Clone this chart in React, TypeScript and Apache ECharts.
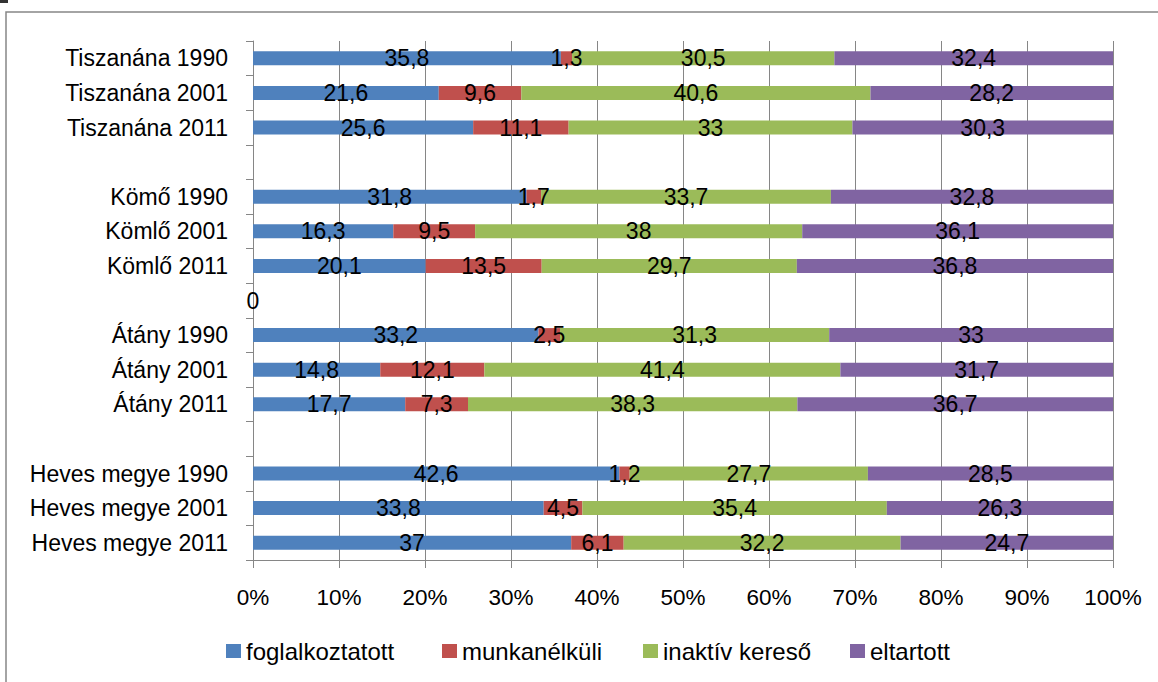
import React, { useEffect, useRef } from "react";
import * as echarts from "echarts";

const categories = [
  "Tiszanána 1990", "Tiszanána 2001", "Tiszanána 2011", " ",
  "Kömő 1990", "Kömlő 2001", "Kömlő 2011", "  ",
  "Átány 1990", "Átány 2001", "Átány 2011", "   ",
  "Heves megye 1990", "Heves megye 2001", "Heves megye 2011",
];
const seriesNames = ["foglalkoztatott", "munkanélküli", "inaktív kereső", "eltartott"];
const foglalkoztatott = [35.8, 21.6, 25.6, null, 31.8, 16.3, 20.1, 0, 33.2, 14.8, 17.7, null, 42.6, 33.8, 37];
const munkanelkuli = [1.3, 9.6, 11.1, null, 1.7, 9.5, 13.5, null, 2.5, 12.1, 7.3, null, 1.2, 4.5, 6.1];
const inaktiv = [30.5, 40.6, 33, null, 33.7, 38, 29.7, null, 31.3, 41.4, 38.3, null, 27.7, 35.4, 32.2];
const eltartott = [32.4, 28.2, 30.3, null, 32.8, 36.1, 36.8, null, 33, 31.7, 36.7, null, 28.5, 26.3, 24.7];
const xTicks = [0, 10, 20, 30, 40, 50, 60, 70, 80, 90, 100];
const colors = ["#4F81BD", "#C0504D", "#9BBB59", "#8064A2"];
const legendLefts = [226, 442, 643, 850];

const FONT = "'Liberation Sans', Arial, sans-serif";

export default function App() {
  const ref = useRef<HTMLDivElement>(null);
  useEffect(() => {
    if (!ref.current) return;
    const chart = echarts.init(ref.current, null, { renderer: "svg" });
    const raw = [foglalkoztatott, munkanelkuli, inaktiv, eltartott];
    const totals = categories.map((_, i) =>
      raw.reduce((s, arr) => s + (arr[i] == null ? 0 : (arr[i] as number)), 0)
    );
    const series = raw.map((arr, si) => ({
      name: seriesNames[si],
      type: "bar",
      stack: "total",
      barWidth: 14,
      itemStyle: { color: colors[si] },
      label: {
        show: true,
        position: "inside",
        color: "#000",
        fontSize: 23,
        fontFamily: FONT,
        formatter: (p: any) => {
          const v = arr[p.dataIndex];
          return v == null ? "" : String(v).replace(".", ",");
        },
      },
      data: arr.map((v, i) =>
        v == null ? "-" : totals[i] > 0 ? ((v as number) / totals[i]) * 100 : 0
      ),
    }));
    const legends = seriesNames.map((n, i) => ({
      data: [n],
      left: legendLefts[i],
      top: 639,
      padding: 0,
      itemWidth: 15,
      itemHeight: 14,
      itemGap: 0,
      icon: "rect",
      textStyle: { fontSize: 24, color: "#000", fontFamily: FONT },
    }));
    chart.setOption({
      animation: false,
      textStyle: { fontFamily: FONT },
      grid: { left: 253, right: 45, top: 41, bottom: 122, containLabel: false },
      legend: legends,
      xAxis: {
        type: "value",
        min: xTicks[0],
        max: xTicks[xTicks.length - 1],
        interval: 10,
        axisLabel: { formatter: "{value}%", fontSize: 22.5, color: "#000", margin: 26, fontFamily: FONT },
        axisLine: { show: true, lineStyle: { color: "#868686", width: 1 } },
        axisTick: { show: true, length: 8, lineStyle: { color: "#868686" } },
        splitLine: { show: true, lineStyle: { color: "#868686", width: 1 } },
      },
      yAxis: {
        type: "category",
        inverse: true,
        data: categories,
        axisLabel: { fontSize: 23, color: "#000", margin: 25, fontFamily: FONT },
        axisLine: { show: true, lineStyle: { color: "#868686", width: 1 } },
        axisTick: { show: true, length: 7, alignWithLabel: false, lineStyle: { color: "#868686" } },
        splitLine: { show: false },
      },
      graphic: [
        { type: "rect", shape: { x: 6, y: 12, width: 1200, height: 700 }, style: { fill: "none", stroke: "#868686", lineWidth: 1.5 }, z: -10 },
        { type: "rect", shape: { x: 0, y: 0, width: 8, height: 3 }, style: { fill: "#333" } },
      ],
      series,
    });
    return () => chart.dispose();
  }, []);
  return (
    <div
      ref={ref}
      style={{ position: "absolute", left: 0, top: 0, width: 1158, height: 682, background: "#fff" }}
    />
  );
}
